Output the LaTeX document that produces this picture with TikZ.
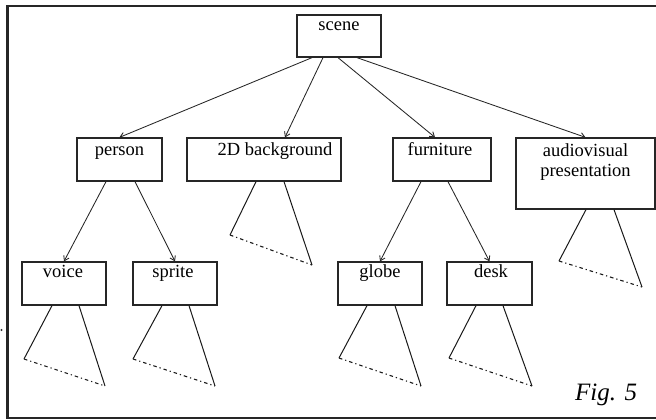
\documentclass[tikz,border=0pt]{standalone}
\usepackage{fontspec}
\setmainfont{Liberation Serif}
\usetikzlibrary{arrows.meta}

\tikzset{
  box/.style={draw=black!85, line width=1.3pt, inner sep=0pt},
  lbl/.style={anchor=base, inner sep=0pt, font=\fontsize{18.5}{20}\selectfont},
  link/.style={draw=black!85, line width=0.85pt, -{Straight Barb[length=4.5pt,width=6pt]}},
  stub/.style={draw=black!90, line width=1pt},
  base/.style={draw=black!90, line width=1.1pt, dash pattern={on 3.5pt off 3pt on 1.2pt off 3pt}},
  frame/.style={draw=black!85, line width=2.4pt}
}

\begin{document}
\begin{tikzpicture}[x=1pt, y=-1pt]
\useasboundingbox (0,0) rectangle (656,420);

% outer frame (its right side lies past the page edge)
\draw[frame] (7.5,6) -- (680,6) -- (680,418) -- (7.5,418) -- cycle;
\fill[black!80] (1.5,330) circle (1.1pt);

% boxes
\node[box, minimum width=84pt, minimum height=42pt] (scene) at (339,36) {};
\node[box, minimum width=85pt, minimum height=43pt] (person) at (119.5,159.5) {};
\node[box, minimum width=154pt, minimum height=43pt] (bg) at (264,159.5) {};
\node[box, minimum width=98pt, minimum height=43pt] (furn) at (442,159.5) {};
\node[box, minimum width=139pt, minimum height=71pt] (av) at (585.5,173.5) {};
\node[box, minimum width=84pt, minimum height=43pt] (voice) at (64,283.5) {};
\node[box, minimum width=84pt, minimum height=43pt] (sprite) at (175,283.5) {};
\node[box, minimum width=84pt, minimum height=43pt] (globe) at (380,283.5) {};
\node[box, minimum width=85pt, minimum height=43pt] (desk) at (489.5,283.5) {};

% labels
\node[lbl] (tscene) at ([yshift=-16pt]scene.north) {scene};
\node[lbl] (tperson) at ([yshift=-18pt]person.north) {person};
\node[lbl] (tbg) at ([xshift=11pt,yshift=-18pt]bg.north) {2D background};
\node[lbl] (tfurn) at ([xshift=-2pt,yshift=-18pt]furn.north) {furniture};
\node[lbl] (tav1) at ([yshift=-19pt]av.north) {audiovisual};
\node[lbl] (tav2) at ([yshift=-39pt]av.north) {presentation};
\node[lbl] (tvoice) at ([xshift=-1pt,yshift=-16pt]voice.north) {voice};
\node[lbl] (tsprite) at ([xshift=-2pt,yshift=-16pt]sprite.north) {sprite};
\node[lbl] (tglobe) at ([yshift=-16pt]globe.north) {globe};
\node[lbl] (tdesk) at ([xshift=1.5pt,yshift=-16pt]desk.north) {desk};

% connectors from scene
\draw[link] ([xshift=-27pt]scene.south) -- (person.north);
\draw[link] ([xshift=-16pt]scene.south) -- ([xshift=21pt]bg.north);
\draw[link] ([xshift=-1pt]scene.south) -- ([xshift=-7pt]furn.north);
\draw[link] ([xshift=18pt]scene.south) -- (av.north);

% second level
\draw[link] ([xshift=-13.5pt]person.south) -- (voice.north);
\draw[link] ([xshift=15.5pt]person.south) -- (sprite.north);
\draw[link] ([xshift=-21pt]furn.south) -- (globe.north);
\draw[link] ([xshift=6pt]furn.south) -- (desk.north);

% collapsed subtrees
\coordinate (bgL) at (230,235);   \coordinate (bgR) at (312,265);
\coordinate (avL) at (559,261);   \coordinate (avR) at (642,287);
\coordinate (voL) at (24,359);    \coordinate (voR) at (105,386);
\coordinate (spL) at (133,359);   \coordinate (spR) at (215,386);
\coordinate (glL) at (339,358);   \coordinate (glR) at (421,386);
\coordinate (deL) at (449,358);   \coordinate (deR) at (532,386);

\draw[stub] ([xshift=-8pt]bg.south) -- (bgL);
\draw[stub] ([xshift=20pt]bg.south) -- (bgR);
\draw[base] (bgL) -- (bgR);

\draw[stub] ([xshift=0.5pt]av.south) -- (avL);
\draw[stub] ([xshift=28.5pt]av.south) -- (avR);
\draw[base] (avL) -- (avR);

\draw[stub] ([xshift=-12pt]voice.south) -- (voL);
\draw[stub] ([xshift=15pt]voice.south) -- (voR);
\draw[base] (voL) -- (voR);

\draw[stub] ([xshift=-13pt]sprite.south) -- (spL);
\draw[stub] ([xshift=14pt]sprite.south) -- (spR);
\draw[base] (spL) -- (spR);

\draw[stub] ([xshift=-13pt]globe.south) -- (glL);
\draw[stub] ([xshift=15pt]globe.south) -- (glR);
\draw[base] (glL) -- (glR);

\draw[stub] ([xshift=-13.5pt]desk.south) -- (deL);
\draw[stub] ([xshift=13.5pt]desk.south) -- (deR);
\draw[base] (deL) -- (deR);

% caption
\node[anchor=base west, inner sep=0pt, font=\fontsize{25}{28}\selectfont\itshape] (fig) at (575,400) {Fig. 5};
\end{tikzpicture}
\end{document}
